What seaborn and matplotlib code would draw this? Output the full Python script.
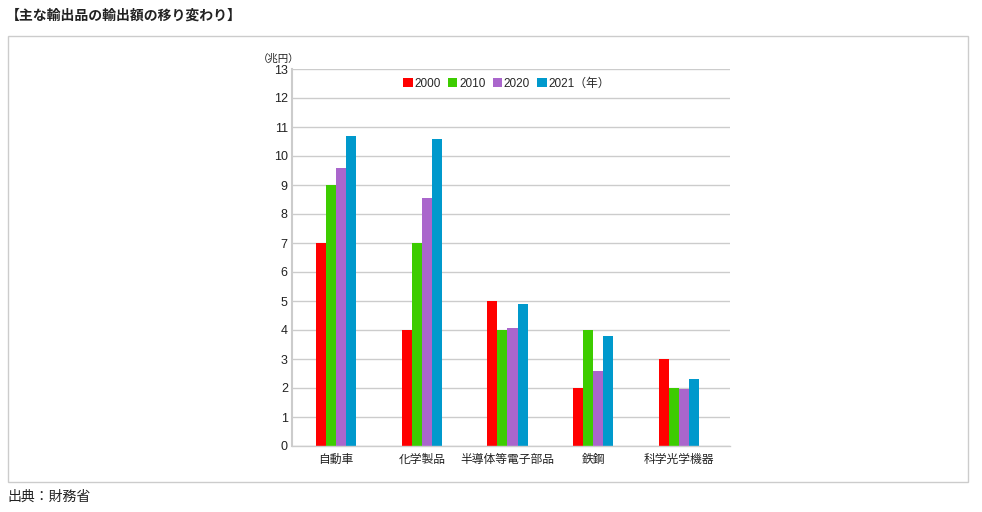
import matplotlib
matplotlib.use("Agg")
import matplotlib.pyplot as plt
import seaborn as sns
import pandas as pd
from matplotlib.patches import Rectangle

categories = ["自動車", "化学製品", "半導体等電子部品", "鉄鋼", "科学光学機器"]
years = ["2000", "2010", "2020", "2021（年）"]
v2000 = [7, 4, 5, 2, 3]
v2010 = [9, 7, 4, 4, 2]
v2020 = [9.6, 8.55, 4.07, 2.57, 1.97]
v2021 = [10.7, 10.6, 4.9, 3.8, 2.3]
colors = ["#ff0000", "#3dcc00", "#aa66cc", "#0099cc"]

rows = []
for y, vals in zip(years, [v2000, v2010, v2020, v2021]):
    for c, v in zip(categories, vals):
        rows.append({"cat": c, "year": y, "val": v})
df = pd.DataFrame(rows)

sns.set_theme(style="white")
plt.rcParams['font.family'] = ['Liberation Sans', 'Noto Sans CJK JP']

fig = plt.figure(figsize=(9.82, 5.12), dpi=100)
ax = fig.add_axes([292/982, 1-446/512, 438/982, 377/512])

sns.barplot(data=df, x="cat", y="val", hue="year", order=categories,
            hue_order=years, palette=colors, width=0.47, ax=ax,
            saturation=1, edgecolor="none", linewidth=0, legend=True)

ax.set_xlim(-0.513, 4.595)
ax.set_ylim(0, 13)
ax.set_yticks(range(0, 14))
ax.yaxis.grid(True, color="#cccccc", linewidth=1)
ax.set_axisbelow(True)
for s in ["top", "right"]:
    ax.spines[s].set_visible(False)
ax.spines["left"].set_color("#cccccc")
ax.spines["left"].set_linewidth(1.5)
ax.spines["bottom"].set_color("#cccccc")
ax.spines["bottom"].set_linewidth(1)
ax.tick_params(axis="y", length=0, labelsize=9, pad=3, labelcolor="#222222")
ax.tick_params(axis="x", length=0, labelsize=8.5, pad=6, labelcolor="#222222")
ax.set_xlabel("")
ax.set_ylabel("")

h, l = ax.get_legend_handles_labels()
ax.legend(h, l, loc="center", bbox_to_anchor=(0.49, 0.96), ncol=4, frameon=False,
          fontsize=8.5, handlelength=0.8, handleheight=0.8, handletextpad=0.15,
          columnspacing=0.6, borderaxespad=0)

fig.text(258/982, 1-59/512, "（兆円）", fontsize=7.5, ha="left", va="center", color="#222222")
fig.text(6/982, 1-16/512, "【主な輸出品の輸出額の移り変わり】", fontsize=10, fontweight="bold",
         ha="left", va="center", color="#222222")
fig.text(7/982, 1-497/512, "出典：財務省", fontsize=10, ha="left", va="center", color="#222222")

fig.patches.append(Rectangle((8/982, 1-482/512), 960/982, 446/512, transform=fig.transFigure,
                             fill=False, edgecolor="#cccccc", linewidth=1))

fig.savefig("out.png", dpi=100)
